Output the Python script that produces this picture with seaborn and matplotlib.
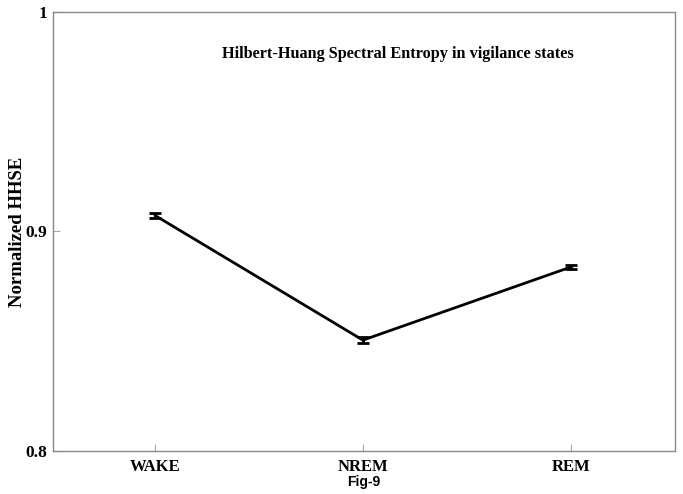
import matplotlib
matplotlib.use("Agg")
import matplotlib.pyplot as plt
import seaborn as sns
import pandas as pd

states = ["WAKE", "NREM", "REM"]
hhse_mean = [0.9073, 0.8505, 0.8838]
hhse_err = [0.0012, 0.0012, 0.0010]

sns.set_style("white")
plt.rcParams["font.family"] = ["Liberation Serif", "DejaVu Serif"]
plt.rcParams["text.color"] = "black"
plt.rcParams["axes.labelcolor"] = "black"

df = pd.DataFrame({"state": states, "hhse": hhse_mean})

fig = plt.figure(figsize=(6.83, 4.94), dpi=100)
ax = fig.add_axes([0.0776, 0.087, 0.9105, 0.889])

sns.lineplot(data=df, x="state", y="hhse", color="black", linewidth=2, ax=ax)
ax.errorbar(range(len(states)), hhse_mean, yerr=hhse_err, fmt="none",
            ecolor="black", elinewidth=2, capsize=4, capthick=2)

ax.set_xlim(-0.49, 2.5)
ax.set_ylim(0.8, 1.0)
ax.set_yticks([0.8, 0.9, 1.0])
ax.set_yticklabels(["0.8", "0.9", "1"])
ax.set_xticks(range(len(states)))
ax.set_xticklabels(states)

for s in ax.spines.values():
    s.set_color("#888888")
    s.set_linewidth(1)
ax.tick_params(bottom=True, left=True, direction="in", length=5,
               color="#aaaaaa", labelcolor="black", labelsize=12.5, pad=4)
ax.tick_params(axis="x", labelsize=12, pad=6)
for lab in ax.get_xticklabels() + ax.get_yticklabels():
    lab.set_fontweight("bold")

ax.set_xlabel("Fig-9", fontsize=10, fontweight="bold", family="Liberation Sans",
              labelpad=0, color="black")
ax.set_ylabel("Normalized HHSE", fontsize=13.5, fontweight="bold", color="black")
ax.yaxis.set_label_coords(-0.043, 0.5)
ax.text(0.555, 0.904, "Hilbert-Huang Spectral Entropy in vigilance states",
        transform=ax.transAxes, ha="center", va="center", fontsize=11.7,
        fontweight="bold", color="black")

fig.savefig("out.png", dpi=100)
